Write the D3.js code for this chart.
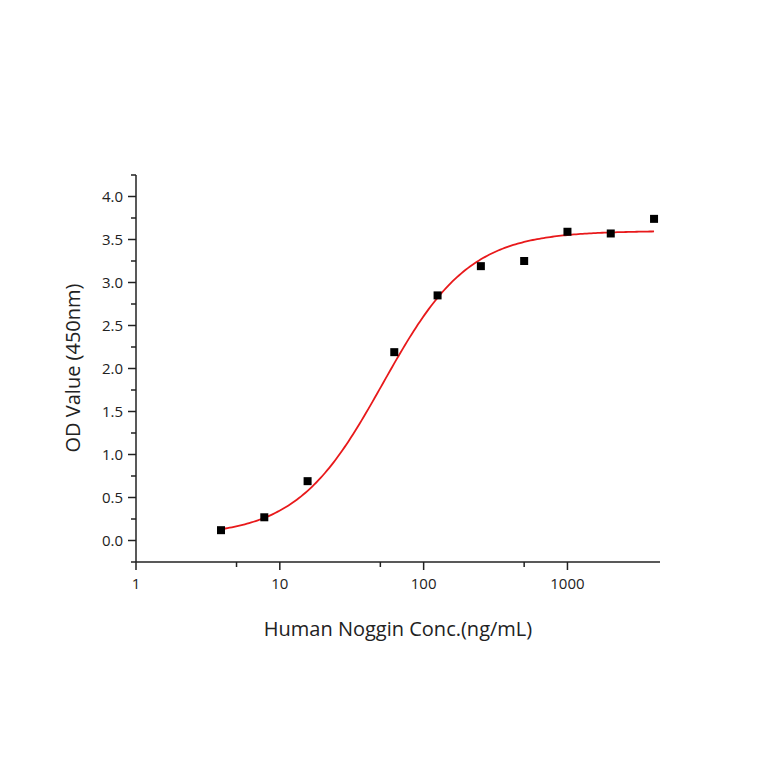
<!DOCTYPE html>
<html><head><meta charset="utf-8">
<script src="https://cdn.jsdelivr.net/npm/d3@7"></script>
<style>body{margin:0;background:#fff}svg{font-family:"Open Sans",sans-serif}</style>
</head><body><svg id="c" width="764" height="764"></svg>
<script>
const conc = [3.9, 7.8, 15.6, 62.5, 125, 250, 500, 1000, 2000, 4000];
const od = [0.12, 0.27, 0.69, 2.19, 2.85, 3.19, 3.25, 3.59, 3.57, 3.74];
const yTicks = [0, 0.5, 1, 1.5, 2, 2.5, 3, 3.5, 4];
const xTicks = [1, 10, 100, 1000];
// fitted 4PL parameters
const fitBottom = 0.05, fitTop = 3.6, fitEC50 = 52, fitHill = 1.45;

const svg = d3.select("#c");
const x = d3.scaleLog().domain([1, 4400]).range([136, 660]);
const y = d3.scaleLinear().domain([-0.25, 4.25]).range([562, 175]);
const col = "#222";

// y axis
const ya = svg.append("g").attr("transform","translate(136,0)");
ya.append("line").attr("y1",y(-0.25)).attr("y2",y(4.25)).attr("stroke",col).attr("stroke-width",1.5);
d3.range(-0.25, 4.26, 0.25).forEach(v=>{
  const major = Math.abs(v*2-Math.round(v*2))<1e-6;
  ya.append("line").attr("x1",major?-8:-5).attr("x2",0).attr("y1",y(v)).attr("y2",y(v)).attr("stroke",col).attr("stroke-width",1.5);
});
yTicks.forEach(v=>ya.append("text").attr("x",-13).attr("y",y(v)).attr("dy","0.35em").attr("text-anchor","end").attr("font-size",15).attr("fill",col).text(v.toFixed(1)));

// x axis
const xa = svg.append("g").attr("transform","translate(0,562)");
xa.append("line").attr("x1",x(1)).attr("x2",x(4400)).attr("stroke",col).attr("stroke-width",1.5);
xTicks.forEach(v=>{
  xa.append("line").attr("x1",x(v)).attr("x2",x(v)).attr("y1",0).attr("y2",8).attr("stroke",col).attr("stroke-width",1.5);
  xa.append("text").attr("x",x(v)).attr("y",27).attr("text-anchor","middle").attr("font-size",15).attr("fill",col).text(v);
  if (v*5<4400) xa.append("line").attr("x1",x(v*5)).attr("x2",x(v*5)).attr("y1",0).attr("y2",5).attr("stroke",col).attr("stroke-width",1.5);
});

// titles
svg.append("text").attr("x",398).attr("y",636).attr("text-anchor","middle").attr("font-size",20).attr("fill",col).text("Human Noggin Conc.(ng/mL)");
svg.append("text").attr("transform","translate(80,368) rotate(-90)").attr("text-anchor","middle").attr("font-size",20).attr("fill",col).text("OD Value (450nm)");

// fitted curve
const f = c => fitBottom + (fitTop-fitBottom)/(1+Math.pow(fitEC50/c, fitHill));
const cs = d3.range(0, 201).map(i => Math.pow(10, Math.log10(3.9) + i/200*(Math.log10(4000)-Math.log10(3.9))));
svg.append("path").attr("d", d3.line().x(c=>x(c)).y(c=>y(f(c)))(cs)).attr("fill","none").attr("stroke","#e8191b").attr("stroke-width",1.8);

// points
svg.selectAll("rect.p").data(conc).join("rect").attr("class","p")
  .attr("x",(c)=>x(c)-4).attr("y",(c,i)=>y(od[i])-4).attr("width",8).attr("height",8).attr("fill","#000");
</script></body></html>
